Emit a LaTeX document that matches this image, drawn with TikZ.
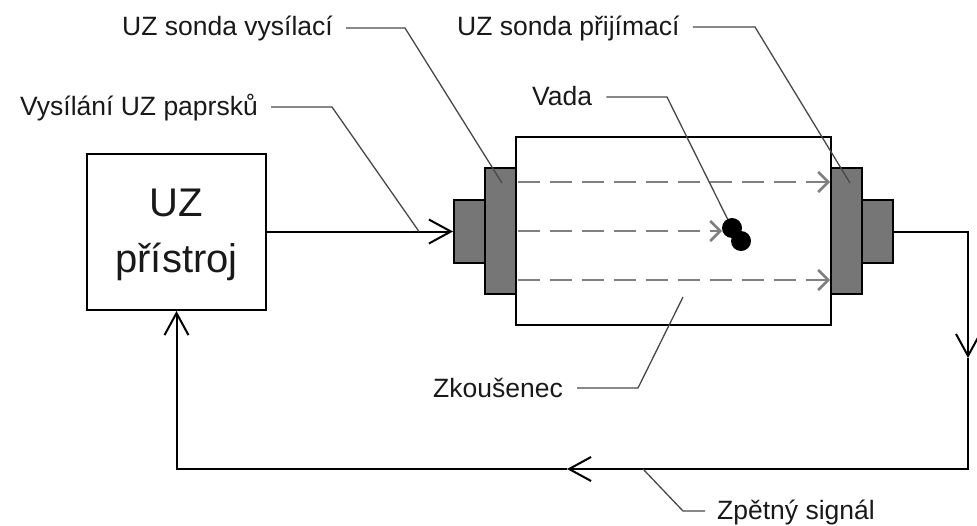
\documentclass[tikz,border=0pt]{standalone}
\usepackage{fontspec}
\setmainfont{Liberation Sans}
\usetikzlibrary{arrows.meta}
\definecolor{probegray}{RGB}{118,118,118}
\definecolor{beamgray}{RGB}{128,128,128}
\definecolor{leadgray}{RGB}{72,72,72}
\definecolor{txt}{RGB}{25,25,25}
\begin{document}
\begin{tikzpicture}[x=1pt,y=-1pt,
  wire/.style={line width=2pt, black},
  barb/.style={-{Straight Barb[length=22pt,width=24pt]}},
  beam/.style={line width=2.6pt, beamgray, dash pattern=on 22pt off 10pt,
    -{Straight Barb[length=10pt,width=20pt]}},
  blockbox/.style={draw, line width=2pt, inner sep=0pt},
  probebox/.style={draw, line width=2pt, fill=probegray, inner sep=0pt},
  leader/.style={line width=1.3pt, leadgray},
  lbl/.style={inner sep=0pt, text=txt, font=\fontsize{26.5}{32}\selectfont},
  defect/.style={circle, fill=black, inner sep=0pt, minimum size=20pt}]
\useasboundingbox (0,0) rectangle (977,525);

% instrument
\node[blockbox, minimum width=179pt, minimum height=156pt] (dev) at (176.5,232) {};
\node[inner sep=0pt, align=center, text=txt, font=\fontsize{40}{56}\selectfont] (devlbl) at (176.5,235) {UZ\\přístroj};

% specimen
\node[blockbox, fill=white, minimum width=315pt, minimum height=188pt] (spec) at (673.5,231) {};

% probes
\node[probebox, minimum width=31pt, minimum height=126pt] (pL1) at (500.5,231) {};
\node[probebox, minimum width=31pt, minimum height=63pt] (pL2) at (469.5,231.5) {};
\node[probebox, minimum width=31pt, minimum height=126pt] (pR1) at (846.5,231) {};
\node[probebox, minimum width=31pt, minimum height=63pt] (pR2) at (877.5,231.5) {};

% beams
\coordinate (b1s) at (517.5,182); \coordinate (b1e) at (830,182);
\coordinate (b2s) at (517.5,231); \coordinate (b2e) at (722,231);
\coordinate (b3s) at (517.5,280); \coordinate (b3e) at (830,280);
\draw[beam] (b1s) -- (b1e);
\draw[beam] (b2s) -- (b2e);
\draw[beam] (b3s) -- (b3e);

% defect
\node[defect] (d1) at (732,228) {};
\node[defect] (d2) at (741,241) {};

% signal wires
\coordinate (c1) at (968,231.5);
\coordinate (m1) at (968,358);
\coordinate (c2) at (968,469);
\coordinate (m2) at (567,469);
\draw[wire, barb] (dev.east |- pL2.west) -- (pL2.west);
\draw[wire, barb] (pR2.east) -- (c1) -- (m1);
\draw[wire, barb] (m1) -- (c2) -- (m2);
\draw[wire, barb] (m2) -- (dev.south |- c2) -- (dev.south);

% labels
\node[lbl, anchor=base west] (l1) at (122,35) {UZ sonda vysílací};
\node[lbl, anchor=base west] (l2) at (20,115) {Vysílání UZ paprsků};
\node[lbl, anchor=base west] (l3) at (457,35) {UZ sonda přijímací};
\node[lbl, anchor=base west] (l4) at (532,105) {Vada};
\node[lbl, anchor=base west] (l5) at (433,397) {Zkoušenec};
\node[lbl, anchor=base west] (l6) at (717,519) {Zpětný signál};

% leader lines
\coordinate (s1) at ([xshift=13pt,yshift=7pt]l1.base east);
\coordinate (k1) at (405,28);  \coordinate (e1) at (502,183);
\draw[leader] (s1) -- (k1 |- s1) -- (e1);
\coordinate (s2) at ([xshift=13pt,yshift=8pt]l2.base east);
\coordinate (k2) at (332,107); \coordinate (e2) at (419,231.5);
\draw[leader] (s2) -- (k2 |- s2) -- (e2);
\coordinate (s3) at ([xshift=13pt,yshift=8pt]l3.base east);
\coordinate (k3) at (755,27);  \coordinate (e3) at (850,183);
\draw[leader] (s3) -- (k3 |- s3) -- (e3);
\coordinate (s4) at ([xshift=14pt,yshift=8pt]l4.base east);
\coordinate (k4) at (667,97);
\draw[leader] (s4) -- (k4 |- s4) -- (d1);
\coordinate (s5) at ([xshift=14pt,yshift=9pt]l5.base east);
\coordinate (k5) at (638,388); \coordinate (e5) at (683,297);
\draw[leader] (s5) -- (k5 |- s5) -- (e5);
\coordinate (s6) at ([xshift=-12pt,yshift=8pt]l6.base west);
\coordinate (k6) at (683,511); \coordinate (e6) at (643,469);
\draw[leader] (s6) -- (k6 |- s6) -- (e6);
\end{tikzpicture}
\end{document}
